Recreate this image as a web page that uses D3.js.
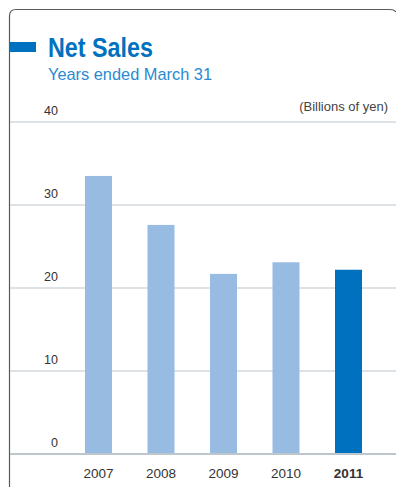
<!DOCTYPE html>
<html>
<head>
<meta charset="utf-8">
<script src="https://cdn.jsdelivr.net/npm/d3@7/dist/d3.min.js"></script>
<style>
  html, body { margin: 0; padding: 0; background: #fff; }
  svg { display: block; }
</style>
</head>
<body>
<svg id="chart" width="396" height="487"></svg>
<script>
// Net sales by fiscal year (billions of yen)
const years = ["2007", "2008", "2009", "2010", "2011"];
const netSales = [33.5, 27.6, 21.7, 23.1, 22.2];
const yTicks = [0, 10, 20, 30, 40];
const highlightYear = "2011";

const svg = d3.select("#chart");
const W = 396, H = 487;
const FONT = "'Liberation Sans', Arial, sans-serif";

// Panel frame: top and left edges with a rounded corner
svg.append("path")
  .attr("d", "M9.5,487 L9.5,16 Q9.5,9.5 16,9.5 L390,9.5 Q394,9.5 396,12")
  .attr("fill", "none")
  .attr("stroke", "#5a5a5a")
  .attr("stroke-width", 1.2);

// Title marker
svg.append("rect")
  .attr("x", 10).attr("y", 42).attr("width", 26).attr("height", 10)
  .attr("fill", "#0071bf");

svg.append("text")
  .attr("x", 48).attr("y", 57)
  .attr("font-family", FONT)
  .attr("font-weight", "bold")
  .attr("font-size", 27.5)
  .attr("textLength", 105)
  .attr("lengthAdjust", "spacingAndGlyphs")
  .attr("fill", "#0071bf")
  .text("Net Sales");

svg.append("text")
  .attr("x", 48).attr("y", 80)
  .attr("font-family", FONT)
  .attr("font-size", 16.2)
  .attr("textLength", 164)
  .attr("lengthAdjust", "spacingAndGlyphs")
  .attr("fill", "#2a8ad2")
  .text("Years ended March 31");

svg.append("text")
  .attr("x", 388).attr("y", 111)
  .attr("text-anchor", "end")
  .attr("font-family", FONT)
  .attr("font-size", 13)
  .attr("fill", "#444")
  .text("(Billions of yen)");

// Scales
const y = d3.scaleLinear().domain([0, 40]).range([454, 122]);
const x = d3.scaleBand()
  .domain(years)
  .range([67.25, 379.75])
  .paddingInner(0.568)
  .paddingOuter(0.284);

// Gridlines
svg.append("g").selectAll("line")
  .data(yTicks)
  .join("line")
  .attr("x1", 10).attr("x2", W)
  .attr("y1", d => y(d)).attr("y2", d => y(d))
  .attr("stroke", "#bcc6cd")
  .attr("stroke-width", d => d === 0 ? 2 : 1.2);

// Value axis labels (placed above each gridline)
const yAxis = d3.axisLeft(y).tickValues(yTicks).tickSize(0).tickPadding(0);
const yg = svg.append("g").attr("transform", "translate(58,-11.5)").call(yAxis);
yg.select(".domain").remove();
yg.selectAll("text")
  .attr("font-family", FONT)
  .attr("font-size", 12.5)
  .attr("fill", "#333")
  .attr("dy", "0.32em");

// Bars
svg.append("g").selectAll("rect")
  .data(years.map((yr, i) => ({ year: yr, value: netSales[i] })))
  .join("rect")
  .attr("x", d => x(d.year))
  .attr("width", x.bandwidth())
  .attr("y", d => y(d.value))
  .attr("height", d => y(0) - y(d.value) - 1)
  .attr("fill", d => d.year === highlightYear ? "#0071bf" : "#98bbe2");

// Category axis
const xAxis = d3.axisBottom(x).tickSize(0).tickPadding(0);
const xg = svg.append("g").attr("transform", "translate(0,468)").call(xAxis);
xg.select(".domain").remove();
xg.selectAll("text")
  .attr("font-family", FONT)
  .attr("font-size", 13.5)
  .attr("fill", "#333")
  .attr("font-weight", d => d === highlightYear ? "bold" : "normal");
</script>
</body>
</html>
